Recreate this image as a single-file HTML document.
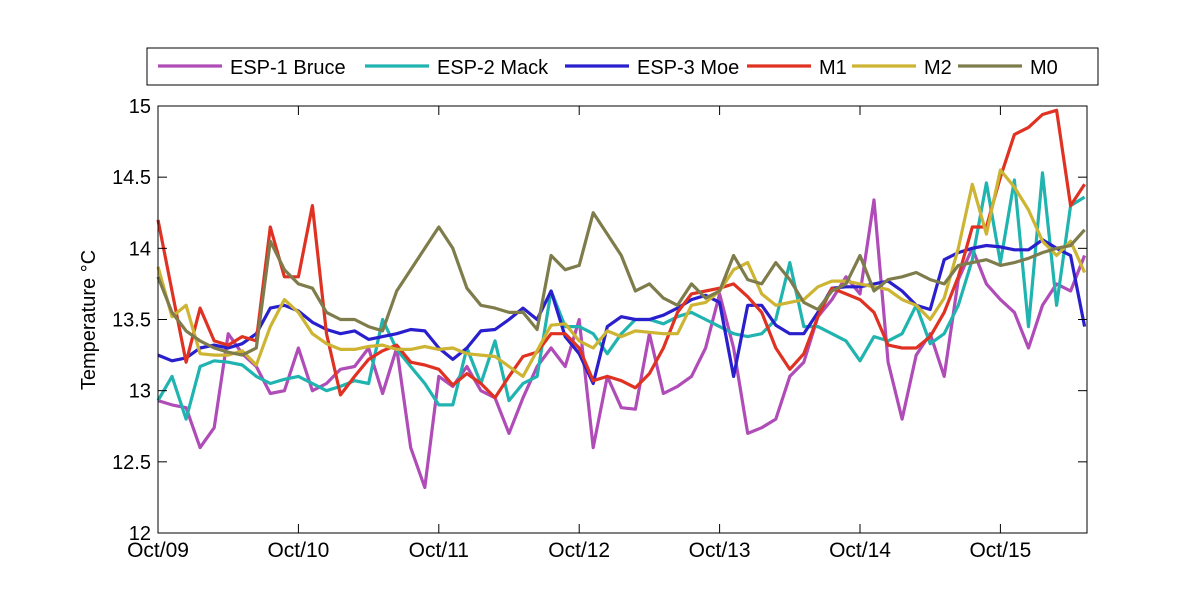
<!DOCTYPE html>
<html><head><meta charset="utf-8"><style>
body{margin:0;background:#fff;}
svg{display:block;font-family:"Liberation Sans",Arial,sans-serif;}
</style></head><body>
<svg id="chart" width="1200" height="600" viewBox="0 0 1200 600">
<rect x="0" y="0" width="1200" height="600" fill="#fff"/>
<g id="plot"></g>
<g id="axes"></g>
<g id="legend"></g>
<text x="95" y="320" font-size="20" text-anchor="middle" transform="rotate(-90 95 320)">Temperature °C</text>
</svg>
<script>
const xTickLabels=["Oct/09","Oct/10","Oct/11","Oct/12","Oct/13","Oct/14","Oct/15"];
const yTicks=[12,12.5,13,13.5,14,14.5,15];
const yTickLabels=["12","12.5","13","13.5","14","14.5","15"];
const seriesNames=["ESP-1 Bruce","ESP-2 Mack","ESP-3 Moe","M1","M2","M0"];
const stepDays=0.1;
const bruce=[12.93,12.9,12.88,12.6,12.74,13.4,13.26,13.17,12.98,13.0,13.3,13.0,13.05,13.15,13.17,13.3,12.98,13.3,12.6,12.32,13.1,13.03,13.17,13.0,12.95,12.7,12.95,13.17,13.3,13.17,13.5,12.6,13.1,12.88,12.87,13.4,12.98,13.03,13.1,13.3,13.68,13.3,12.7,12.74,12.8,13.1,13.2,13.52,13.64,13.8,13.68,14.34,13.2,12.8,13.25,13.4,13.1,13.78,14.0,13.75,13.64,13.55,13.3,13.6,13.75,13.7,13.95];
const mack=[12.93,13.1,12.8,13.17,13.21,13.2,13.18,13.1,13.05,13.08,13.1,13.05,13.0,13.03,13.07,13.05,13.5,13.29,13.17,13.05,12.9,12.9,13.3,13.05,13.35,12.93,13.05,13.1,13.7,13.45,13.45,13.4,13.26,13.4,13.5,13.5,13.47,13.52,13.55,13.5,13.45,13.4,13.38,13.4,13.5,13.9,13.45,13.45,13.4,13.35,13.21,13.38,13.35,13.4,13.6,13.33,13.4,13.6,13.92,14.46,13.9,14.48,13.45,14.53,13.6,14.3,14.36];
const moe=[13.25,13.21,13.23,13.3,13.32,13.3,13.33,13.4,13.58,13.6,13.56,13.48,13.43,13.4,13.42,13.36,13.38,13.4,13.43,13.42,13.3,13.22,13.3,13.42,13.43,13.5,13.58,13.5,13.7,13.38,13.26,13.05,13.45,13.52,13.5,13.5,13.53,13.58,13.64,13.67,13.62,13.1,13.6,13.6,13.46,13.4,13.4,13.55,13.72,13.73,13.73,13.75,13.77,13.7,13.6,13.57,13.92,13.97,14.0,14.02,14.01,13.99,13.99,14.06,14.0,13.95,13.45];
const m1=[14.2,13.7,13.2,13.58,13.35,13.32,13.38,13.35,14.15,13.8,13.8,14.3,13.4,12.97,13.1,13.22,13.28,13.32,13.2,13.18,13.15,13.04,13.12,13.05,12.95,13.1,13.24,13.27,13.4,13.4,13.3,13.07,13.1,13.07,13.02,13.12,13.3,13.55,13.68,13.7,13.72,13.75,13.66,13.55,13.3,13.15,13.26,13.52,13.72,13.68,13.64,13.55,13.32,13.3,13.3,13.38,13.55,13.8,14.15,14.15,14.5,14.8,14.85,14.94,14.97,14.3,14.45];
const m2=[13.87,13.52,13.6,13.26,13.25,13.25,13.28,13.18,13.45,13.64,13.55,13.4,13.33,13.29,13.29,13.31,13.32,13.29,13.29,13.31,13.29,13.3,13.26,13.25,13.24,13.17,13.1,13.28,13.46,13.47,13.35,13.3,13.42,13.38,13.42,13.41,13.4,13.4,13.6,13.62,13.7,13.85,13.9,13.68,13.6,13.62,13.64,13.73,13.77,13.77,13.75,13.73,13.71,13.64,13.6,13.5,13.65,14.0,14.45,14.1,14.55,14.43,14.27,14.05,13.95,14.05,13.83];
const m0=[13.8,13.55,13.42,13.35,13.3,13.27,13.25,13.3,14.05,13.85,13.75,13.72,13.55,13.5,13.5,13.45,13.42,13.7,13.85,14.0,14.15,14.0,13.72,13.6,13.58,13.55,13.55,13.43,13.95,13.85,13.88,14.25,14.1,13.95,13.7,13.75,13.65,13.6,13.75,13.65,13.7,13.95,13.78,13.75,13.9,13.78,13.62,13.57,13.7,13.75,13.95,13.7,13.78,13.8,13.83,13.78,13.75,13.88,13.9,13.92,13.88,13.9,13.93,13.97,14.0,14.02,14.13];
const seriesData=[bruce,mack,moe,m1,m2,m0];
const colors=["#b04cb8","#20b4b0","#2a1fcc","#e03222","#cdb432","#7f7c4c"];
const NS="http://www.w3.org/2000/svg";
const X0=158,X1=1087,Y0=533,Y1=106,DAY=140.4;
const xScale=d=>X0+d*DAY;
const yScale=v=>Y0-(v-12)/3*(Y0-Y1);
function mk(tag,attrs,parent){const e=document.createElementNS(NS,tag);for(const k in attrs)e.setAttribute(k,attrs[k]);parent.appendChild(e);return e;}
const plot=document.getElementById('plot'),axes=document.getElementById('axes'),legend=document.getElementById('legend');
seriesData.forEach((arr,s)=>{
  const pts=arr.map((v,i)=>xScale(i*stepDays).toFixed(1)+","+yScale(v).toFixed(1)).join(" ");
  const pl=mk('polyline',{points:pts,fill:'none',stroke:colors[s],'stroke-width':3.2,'stroke-linejoin':'round'},plot);
  
  
});
const frame=mk('rect',{x:X0,y:Y1,width:X1-X0,height:Y0-Y1,fill:'none',stroke:'#000','stroke-width':1},axes);


xTickLabels.forEach((t,i)=>{
  const x=xScale(i);
  mk('line',{x1:x,y1:Y0,x2:x,y2:Y0-9,stroke:'#000'},axes);
  mk('line',{x1:x,y1:Y1,x2:x,y2:Y1+9,stroke:'#000'},axes);
  const tx=mk('text',{x:x,y:Y0+24,'font-size':21,'text-anchor':'middle'},axes);
  tx.textContent=t;
  
  
});
yTicks.forEach((v,i)=>{
  const y=yScale(v);
  mk('line',{x1:X0,y1:y,x2:X0+9,y2:y,stroke:'#000'},axes);
  mk('line',{x1:X1,y1:y,x2:X1-9,y2:y,stroke:'#000'},axes);
  const tx=mk('text',{x:X0-7,y:y+7,'font-size':20,'text-anchor':'end'},axes);
  tx.textContent=yTickLabels[i];
  
  
});
const lb=mk('rect',{x:147,y:48,width:951,height:37,fill:'#fff',stroke:'#000'},legend);


const lineX=[158,365,565,747,852,958];
seriesNames.forEach((n,s)=>{
  const g=mk('g',{},legend);
  
  
  mk('line',{x1:lineX[s],y1:66,x2:lineX[s]+64,y2:66,stroke:colors[s],'stroke-width':3.2},g);
  const t=mk('text',{x:lineX[s]+72,y:74,'font-size':20},g);
  t.textContent=n;
});
</script>
</body></html>
